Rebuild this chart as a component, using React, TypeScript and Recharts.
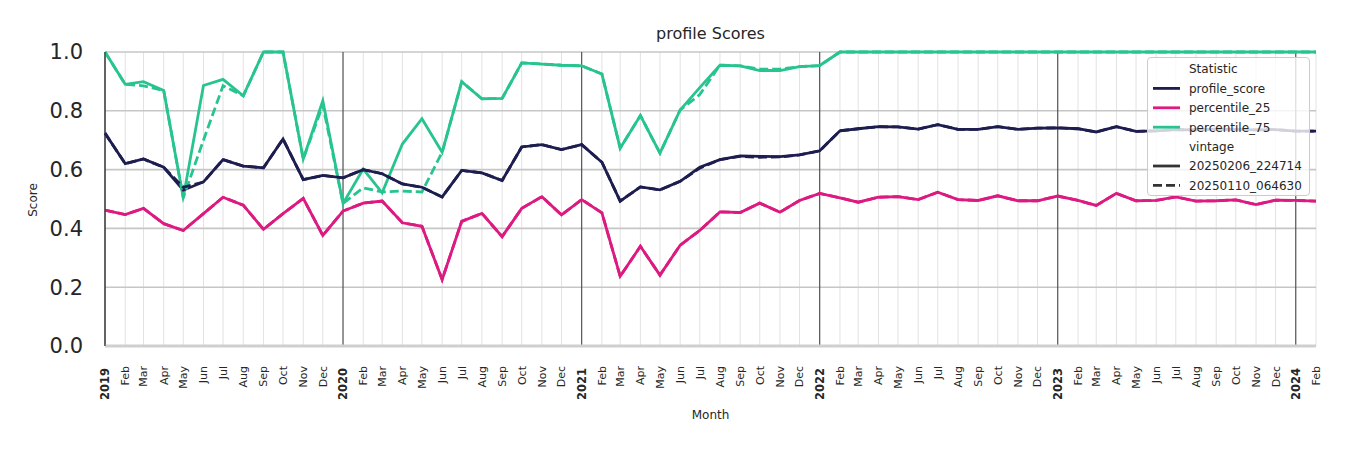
import React from 'react';
import { LineChart, Line, XAxis, YAxis, CartesianGrid, ReferenceLine, Legend, Customized } from 'recharts';

const months = [
  '2019-01','2019-02','2019-03','2019-04','2019-05','2019-06','2019-07','2019-08','2019-09','2019-10','2019-11','2019-12',
  '2020-01','2020-02','2020-03','2020-04','2020-05','2020-06','2020-07','2020-08','2020-09','2020-10','2020-11','2020-12',
  '2021-01','2021-02','2021-03','2021-04','2021-05','2021-06','2021-07','2021-08','2021-09','2021-10','2021-11','2021-12',
  '2022-01','2022-02','2022-03','2022-04','2022-05','2022-06','2022-07','2022-08','2022-09','2022-10','2022-11','2022-12',
  '2023-01','2023-02','2023-03','2023-04','2023-05','2023-06','2023-07','2023-08','2023-09','2023-10','2023-11','2023-12',
  '2024-01','2024-02',
];

const monthAbbr = ['Jan','Feb','Mar','Apr','May','Jun','Jul','Aug','Sep','Oct','Nov','Dec'];
const yTicks = [0, 0.2, 0.4, 0.6, 0.8, 1.0];

// vintage 20250206_224714 (solid)
const profileScore = [
  0.724, 0.620, 0.636, 0.608, 0.530, 0.558, 0.634, 0.612, 0.606, 0.704, 0.566, 0.580,
  0.572, 0.600, 0.586, 0.551, 0.540, 0.507, 0.597, 0.589, 0.563, 0.677, 0.685, 0.668,
  0.685, 0.625, 0.493, 0.541, 0.531, 0.560, 0.608, 0.634, 0.647, 0.645, 0.644, 0.650,
  0.664, 0.732, 0.739, 0.746, 0.745, 0.738, 0.753, 0.737, 0.737, 0.746, 0.737, 0.741,
  0.742, 0.739, 0.728, 0.746, 0.730, 0.732, 0.736, 0.735, 0.738, 0.737, 0.735, 0.736,
  0.731, 0.731,
];
const percentile25 = [
  0.462, 0.447, 0.468, 0.416, 0.393, 0.450, 0.506, 0.479, 0.397, 0.450, 0.502, 0.376,
  0.459, 0.486, 0.493, 0.419, 0.407, 0.226, 0.424, 0.451, 0.372, 0.468, 0.508, 0.446,
  0.498, 0.453, 0.237, 0.339, 0.241, 0.343, 0.393, 0.456, 0.454, 0.486, 0.455, 0.495,
  0.519, 0.504, 0.489, 0.506, 0.508, 0.498, 0.523, 0.498, 0.495, 0.511, 0.494, 0.494,
  0.510, 0.495, 0.478, 0.519, 0.494, 0.495, 0.507, 0.493, 0.494, 0.497, 0.481, 0.496,
  0.495, 0.493,
];
const percentile75 = [
  1.0, 0.890, 0.899, 0.869, 0.504, 0.886, 0.907, 0.851, 1.0, 1.0, 0.636, 0.834,
  0.485, 0.602, 0.521, 0.687, 0.773, 0.659, 0.899, 0.841, 0.842, 0.963, 0.959, 0.955,
  0.953, 0.925, 0.673, 0.784, 0.656, 0.803, 0.879, 0.955, 0.953, 0.937, 0.937, 0.950,
  0.954, 1.0, 1.0, 1.0, 1.0, 1.0, 1.0, 1.0, 1.0, 1.0, 1.0, 1.0,
  1.0, 1.0, 1.0, 1.0, 1.0, 1.0, 1.0, 1.0, 1.0, 1.0, 1.0, 1.0,
  1.0, 1.0,
];

// vintage 20250110_064630 (dashed)
const profileScoreOld = [
  0.724, 0.620, 0.636, 0.608, 0.540, 0.558, 0.634, 0.612, 0.606, 0.704, 0.566, 0.580,
  0.572, 0.600, 0.586, 0.551, 0.540, 0.507, 0.597, 0.589, 0.563, 0.677, 0.685, 0.668,
  0.685, 0.625, 0.493, 0.541, 0.531, 0.560, 0.605, 0.634, 0.645, 0.642, 0.643, 0.650,
  0.664, 0.732, 0.739, 0.746, 0.745, 0.738, 0.753, 0.737, 0.737, 0.746, 0.737, 0.741,
  0.742, 0.739, 0.728, 0.746, 0.730, 0.732, 0.736, 0.735, 0.738, 0.737, 0.735, 0.736,
  0.731, 0.731,
];
const percentile25Old = [
  0.462, 0.447, 0.468, 0.416, 0.393, 0.450, 0.506, 0.479, 0.397, 0.450, 0.502, 0.376,
  0.459, 0.486, 0.493, 0.419, 0.407, 0.226, 0.424, 0.451, 0.372, 0.468, 0.508, 0.446,
  0.498, 0.453, 0.237, 0.339, 0.241, 0.343, 0.393, 0.456, 0.454, 0.486, 0.455, 0.495,
  0.519, 0.504, 0.489, 0.506, 0.508, 0.498, 0.523, 0.498, 0.495, 0.511, 0.494, 0.494,
  0.510, 0.495, 0.478, 0.519, 0.494, 0.495, 0.507, 0.493, 0.494, 0.497, 0.481, 0.496,
  0.495, 0.493,
];
const percentile75Old = [
  1.0, 0.890, 0.885, 0.869, 0.504, 0.700, 0.885, 0.851, 1.0, 1.0, 0.636, 0.820,
  0.485, 0.538, 0.524, 0.527, 0.524, 0.659, 0.899, 0.841, 0.842, 0.963, 0.959, 0.955,
  0.953, 0.925, 0.673, 0.784, 0.656, 0.803, 0.855, 0.955, 0.953, 0.942, 0.942, 0.950,
  0.954, 1.0, 1.0, 1.0, 1.0, 1.0, 1.0, 1.0, 1.0, 1.0, 1.0, 1.0,
  1.0, 1.0, 1.0, 1.0, 1.0, 1.0, 1.0, 1.0, 1.0, 1.0, 1.0, 1.0,
  1.0, 1.0,
];

const COLORS = { profile: '#1d1d4f', p25: '#dc1a80', p75: '#27c490' };
const FONT = '"DejaVu Sans", sans-serif';
const TEXT = '#262626';

const DAY = 86400000;
const BASE = Date.UTC(2019, 0, 1);
const dayOf = (m: string) => {
  const [y, mo] = m.split('-').map(Number);
  return Math.round((Date.UTC(y, mo - 1, 1) - BASE) / DAY);
};

const data = months.map((m, i) => ({
  t: dayOf(m),
  month: m,
  ps: profileScore[i],
  p25: percentile25[i],
  p75: percentile75[i],
  psOld: profileScoreOld[i],
  p25Old: percentile25Old[i],
  p75Old: percentile75Old[i],
}));

const tickValues = data.map((d) => d.t);
const yearTicks = data.filter((d) => d.month.endsWith('-01')).map((d) => d.t);
const labelByT: Record<number, string> = {};
data.forEach((d) => {
  const [y, mo] = d.month.split('-').map(Number);
  labelByT[d.t] = mo === 1 ? String(y) : monthAbbr[mo - 1];
});

const MonthTick = (props: any) => {
  const { x, y, payload } = props;
  const label = labelByT[payload.value];
  const isYear = /^\d{4}$/.test(label || '');
  const ay = y + (isYear ? 2 : 0);
  return (
    <text
      x={x}
      y={ay}
      dy="0.36em"
      transform={`rotate(-90, ${x}, ${ay})`}
      textAnchor="end"
      fontSize={isYear ? 11.5 : 11}
      fontWeight={isYear ? 'bold' : 'normal'}
      fontFamily={FONT}
      fill={TEXT}
    >
      {label}
    </text>
  );
};

const legendRows = [
  { kind: 'header', label: 'Statistic' },
  { kind: 'line', label: 'profile_score', color: COLORS.profile, dash: undefined },
  { kind: 'line', label: 'percentile_25', color: COLORS.p25, dash: undefined },
  { kind: 'line', label: 'percentile_75', color: COLORS.p75, dash: undefined },
  { kind: 'header', label: 'vintage' },
  { kind: 'line', label: '20250206_224714', color: '#333333', dash: undefined },
  { kind: 'line', label: '20250110_064630', color: '#333333', dash: '9 4' },
];

const LegendBox = () => (
  <div
    style={{
      width: 161,
      height: 137,
      border: '1px solid #cccccc',
      borderRadius: 4,
      background: 'rgba(255,255,255,0.8)',
    }}
  >
    <svg width={161} height={137} style={{ display: 'block' }}>
      {legendRows.map((r, i) => {
        const cy = 11 + i * 19.4;
        return (
          <g key={i}>
            {r.kind === 'line' && (
              <line x1={5} x2={32} y1={cy} y2={cy} stroke={r.color} strokeWidth={2.8} strokeDasharray={r.dash} />
            )}
            <text x={41} y={cy} dy="0.36em" fontSize={12} fontFamily={FONT} fill={TEXT}>
              {r.label}
            </text>
          </g>
        );
      })}
    </svg>
  </div>
);

const Texts = () => (
  <g>
    <text x={702.5} y={31} textAnchor="middle" fontSize={16} fontFamily={FONT} fill={TEXT}>
      profile Scores
    </text>
    <text x={702.5} y={411} textAnchor="middle" fontSize={12} fontFamily={FONT} fill={TEXT}>
      Month
    </text>
    <text
      x={24.5}
      y={192}
      textAnchor="middle"
      dy="0.36em"
      transform="rotate(-90, 24.5, 192)"
      fontSize={12}
      fontFamily={FONT}
      fill={TEXT}
    >
      Score
    </text>
  </g>
);

export default function App() {
  const lw = 2.8;
  return (
    <div style={{ width: 1334, height: 434, position: 'relative' }}>
      <LineChart width={1334} height={434} data={data} margin={{ top: 44, right: 26, left: 37, bottom: 46 }}>
        <CartesianGrid horizontal={false} vertical={true} stroke="#e2e2e2" strokeWidth={1} />
        <CartesianGrid horizontal={true} vertical={false} stroke="#c6c6c6" strokeWidth={1.6} />
        {yearTicks.map((t) => (
          <ReferenceLine key={t} x={t} stroke="#3a3a3a" strokeWidth={1} />
        ))}
        <XAxis
          dataKey="t"
          type="number"
          domain={[0, 1857]}
          ticks={tickValues}
          interval={0}
          tick={<MonthTick />}
          tickLine={false}
          tickSize={0}
          tickMargin={20}
          axisLine={{ stroke: '#cfcfcf', strokeWidth: 3 }}
          height={50}
        />
        <YAxis
          type="number"
          domain={[0, 1]}
          ticks={yTicks}
          interval={0}
          tickFormatter={(v: number) => v.toFixed(1)}
          tick={{ fontSize: 21, fill: TEXT, fontFamily: FONT }}
          tickLine={false}
          tickSize={0}
          tickMargin={22}
          axisLine={{ stroke: '#333333', strokeWidth: 1 }}
          width={60}
        />
        <Line type="linear" dataKey="p75" stroke={COLORS.p75} strokeWidth={lw} dot={false} isAnimationActive={false} />
        <Line type="linear" dataKey="p25" stroke={COLORS.p25} strokeWidth={lw} dot={false} isAnimationActive={false} />
        <Line type="linear" dataKey="ps" stroke={COLORS.profile} strokeWidth={lw} dot={false} isAnimationActive={false} />
        <Line type="linear" dataKey="p75Old" stroke={COLORS.p75} strokeWidth={lw} strokeDasharray="9 4" dot={false} isAnimationActive={false} />
        <Line type="linear" dataKey="p25Old" stroke={COLORS.p25} strokeWidth={lw} strokeDasharray="9 4" dot={false} isAnimationActive={false} />
        <Line type="linear" dataKey="psOld" stroke={COLORS.profile} strokeWidth={lw} strokeDasharray="9 4" dot={false} isAnimationActive={false} />
        <Customized component={Texts} />
        <Legend
          layout="vertical"
          align="center"
          verticalAlign="middle"
          content={() => <LegendBox />}
          wrapperStyle={{ position: 'absolute', left: 1139, top: 49, width: 163, height: 139 }}
        />
      </LineChart>
    </div>
  );
}
